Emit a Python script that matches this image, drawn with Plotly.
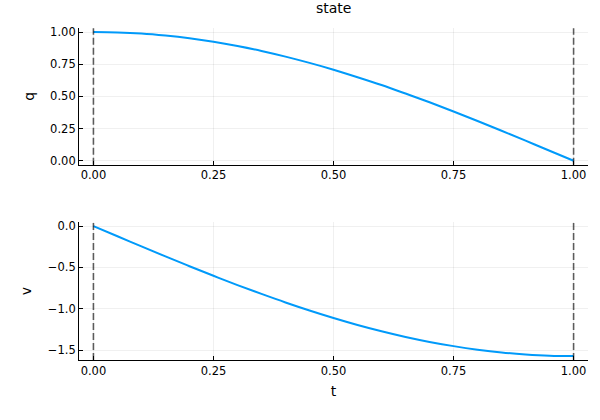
import plotly.graph_objects as go

# temps et état
t = [0.0, 0.05, 0.1, 0.15, 0.2, 0.25, 0.3, 0.35, 0.4, 0.45, 0.5,
     0.55, 0.6, 0.65, 0.7, 0.75, 0.8, 0.85, 0.9, 0.95, 1.0]
q = [1.0, 0.997, 0.988, 0.972, 0.951, 0.924, 0.891, 0.853, 0.809, 0.760, 0.707,
     0.649, 0.588, 0.522, 0.454, 0.383, 0.309, 0.233, 0.156, 0.078, 0.0]
v = [0.0, -0.123, -0.246, -0.367, -0.485, -0.601, -0.713, -0.820, -0.923, -1.020, -1.111,
     -1.195, -1.271, -1.340, -1.400, -1.451, -1.494, -1.528, -1.551, -1.566, -1.571]
bornes = [0.0, 1.0]
ticks_t = [0.0, 0.25, 0.5, 0.75, 1.0]
ticks_q = [0.0, 0.25, 0.5, 0.75, 1.0]
ticks_v = [0.0, -0.5, -1.0, -1.5]

bleu = '#009AFA'
police = 'DejaVu Sans'

fig = go.Figure()
fig.add_trace(go.Scatter(x=t, y=q, mode='lines', line=dict(color=bleu, width=2, shape='spline'),
                         xaxis='x', yaxis='y', showlegend=False))
fig.add_trace(go.Scatter(x=t, y=v, mode='lines', line=dict(color=bleu, width=2, shape='spline'),
                         xaxis='x2', yaxis='y2', showlegend=False))

# lignes verticales en pointillés aux bornes
for xr, yr in [('x', 'y'), ('x2', 'y2')]:
    for b in bornes:
        fig.add_shape(type='line', xref=xr, yref=yr + ' domain', x0=b, x1=b, y0=0, y1=1,
                      line=dict(color='rgba(0,0,0,0.62)', width=1.6, dash='7px,3px'))

axe = dict(showline=True, linecolor='black', linewidth=1, mirror=False,
           ticks='inside', ticklen=4, tickcolor='black', tickwidth=1,
           showgrid=True, gridcolor='rgba(0,0,0,0.06)', gridwidth=1,
           zeroline=False, automargin=False,
           tickfont=dict(family=police, size=11.5, color='black'))

fig.update_layout(
    width=600, height=420,
    margin=dict(l=0, r=0, t=0, b=0),
    paper_bgcolor='white', plot_bgcolor='white',
    font=dict(family=police, color='black'),
    xaxis=dict(axe, domain=[0.1317, 0.98], anchor='y', range=[-0.03, 1.03],
               tickvals=ticks_t, tickformat='.2f'),
    yaxis=dict(axe, domain=[0.608, 0.933], anchor='x', range=[-0.03, 1.03],
               tickvals=ticks_q, tickformat='.2f',
               title=dict(text='q', font=dict(size=14), standoff=12)),
    xaxis2=dict(axe, domain=[0.1317, 0.98], anchor='y2', range=[-0.03, 1.03],
                tickvals=ticks_t, tickformat='.2f',
                title=dict(text='t', font=dict(size=14), standoff=9)),
    yaxis2=dict(axe, domain=[0.143, 0.471], anchor='x2', range=[-1.618, 0.047],
                tickvals=ticks_v, tickformat='.1f',
                title=dict(text='v', font=dict(size=14), standoff=12)),
    annotations=[dict(text='state', xref='paper', yref='paper', x=0.556, y=0.98,
                      showarrow=False, font=dict(family=police, size=14, color='black'),
                      xanchor='center', yanchor='middle')],
)

# marge du body à zéro pour que la figure tombe pile dans la fenêtre
fig.write_html('out.html', config={'displayModeBar': False},
               post_script="document.body.style.margin='0';")
